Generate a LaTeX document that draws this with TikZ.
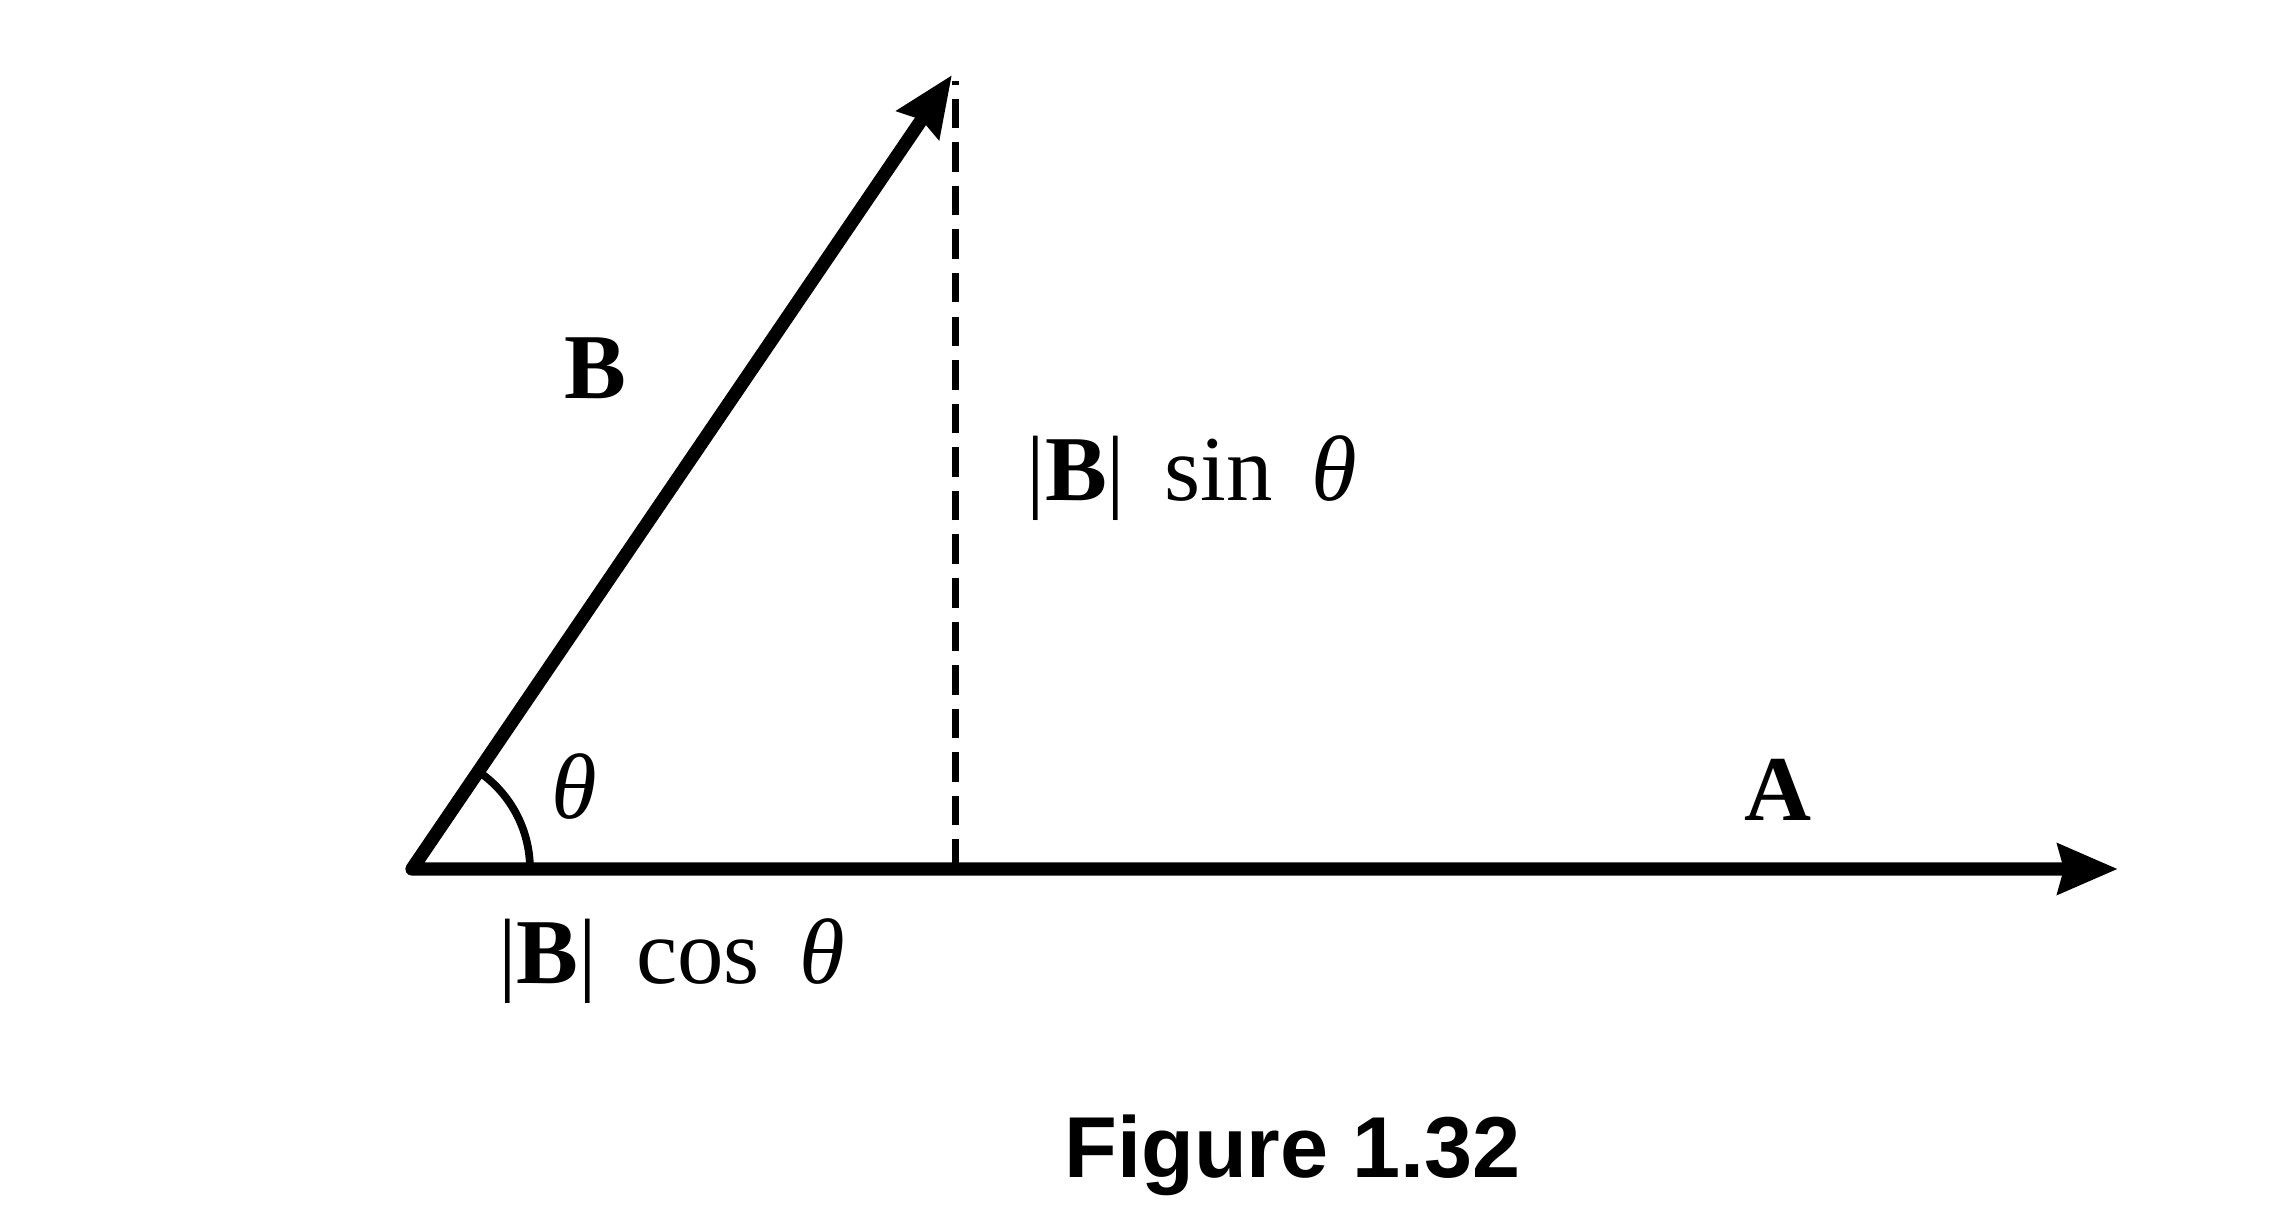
\documentclass[tikz,border=0pt]{standalone}
\usepackage{fontspec}
\setmainfont{Liberation Serif}
\newfontfamily\capfont{Liberation Sans}
\usepackage{tikz}
\usetikzlibrary{
	positioning,
	arrows.meta
}

\tikzset{
	vec/.style={line width=1.9pt,line join=round,{Stealth[length=8.5pt,width=7pt,inset=0.8pt]}-{Stealth[length=8.5pt,width=7pt,inset=0.8pt]}},
	proj/.style={line width=1pt,dash pattern=on 4.2pt off 2pt},
	lbl/.style={font=\fontsize{13.2}{16}\selectfont,inner sep=0pt,anchor=base west}
}

\begin{document}
\begin{tikzpicture}
		\useasboundingbox (0,0) rectangle (11.44,6.145);

		\coordinate (O)  at (2.06,1.80);
		\coordinate (Bt) at (4.76,5.77);
		\coordinate (At) at (10.59,1.80);
		\coordinate (F)  at (4.775,1.80);
		\coordinate (Ft) at (4.775,5.74);

		% vectors and projection
		\draw[vec]  (Bt) -- (O) -- (At);
		\draw[proj] (F) -- (Ft);
		\draw[line width=1.1pt] (O) ++(0.59,0) arc[start angle=0,end angle=55.8,radius=0.59];

		% labels
		\node[lbl] (labB)   at (2.815,4.155) {\textbf{B}};
		\node[lbl] (labA)   at (8.715,2.045) {\textbf{A}};
		\node[lbl] (labth)  at (2.75,2.055)  {\textit{θ}};
		\node[lbl] (labsin) at (5.125,3.645) {|\textbf{B}|\hspace{0.42em}sin\hspace{0.42em}\textit{θ}};
		\node[lbl] (labcos) at (2.485,1.23)  {|\textbf{B}|\hspace{0.42em}cos\hspace{0.42em}\textit{θ}};
		\node[lbl,font=\capfont\bfseries\fontsize{12.3}{14}\selectfont] (cap) at (5.315,0.26) {Figure 1.32};
\end{tikzpicture}
\end{document}
